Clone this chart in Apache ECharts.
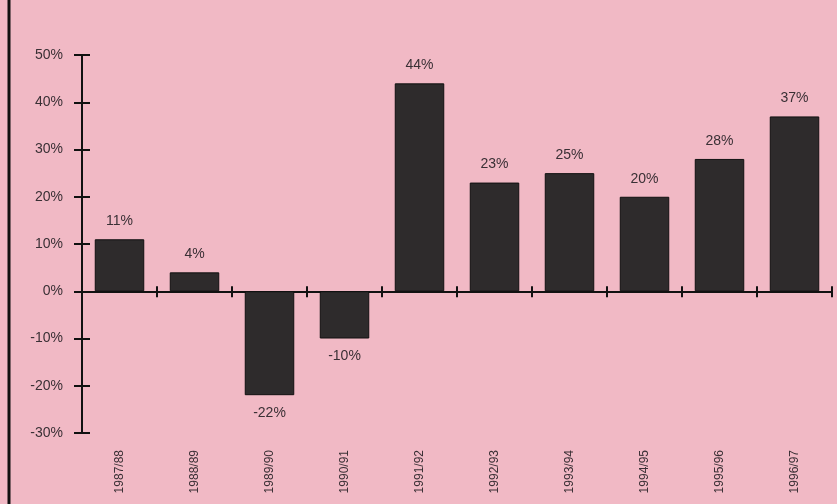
<!DOCTYPE html>
<html>
<head>
<meta charset="utf-8">
<script src="https://cdn.jsdelivr.net/npm/echarts@6/dist/echarts.min.js"></script>
<style>
html,body{margin:0;padding:0;background:#f1b9c5;}
#chart{width:837px;height:504px;}
</style>
</head>
<body>
<div id="chart"></div>
<script>
const categories = ['1987/88','1988/89','1989/90','1990/91','1991/92','1992/93','1993/94','1994/95','1995/96','1996/97'];
const values = [11, 4, -22, -10, 44, 23, 25, 20, 28, 37];
const yMin = -30, yMax = 50, yStep = 10;

const font = '"Liberation Sans", Arial, sans-serif';
const chart = echarts.init(document.getElementById('chart'));
const yBase = {type:'value', min:yMin, max:yMax, interval:yStep, splitLine:{show:false}};
const xBase = {type:'category', data:categories, boundaryGap:true};
chart.setOption({
  backgroundColor:'#f1b9c5',
  animation:false,
  grid:{left:82, right:5, top:55, bottom:71, containLabel:false},
  xAxis:[
    Object.assign({}, xBase, {position:'bottom', axisLine:{onZero:true, lineStyle:{color:'#111', width:2}},
      axisTick:{show:true, length:6, lineStyle:{color:'#111', width:2}}, axisLabel:{show:false}}),
    Object.assign({}, xBase, {position:'bottom', axisLine:{show:false, onZero:true},
      axisTick:{show:true, inside:true, length:5, lineStyle:{color:'#111', width:2}}, axisLabel:{show:false}}),
    Object.assign({}, xBase, {position:'bottom', axisLine:{show:false, onZero:false}, axisTick:{show:false},
      axisLabel:{show:true, rotate:90, margin:17, fontSize:12, color:'#3a3035', fontFamily:font}})
  ],
  yAxis:[
    Object.assign({}, yBase, {position:'left', axisLine:{show:true, lineStyle:{color:'#111', width:2}},
      axisTick:{show:true, length:8, lineStyle:{color:'#111', width:2}},
      axisLabel:{formatter:'{value}%', margin:19, fontSize:14, color:'#3a3035', fontFamily:font}}),
    Object.assign({}, yBase, {position:'left', axisLine:{show:false},
      axisTick:{show:true, inside:true, length:8, lineStyle:{color:'#111', width:2}}, axisLabel:{show:false}})
  ],
  graphic:[
    {type:'line', shape:{x1:9, y1:0, x2:9, y2:504}, style:{stroke:'#111', lineWidth:3}}
  ],
  series:[{
    type:'bar', xAxisIndex:0, yAxisIndex:0, barWidth:'66%',
    itemStyle:{color:'#2e2b2c', borderColor:'#111', borderWidth:1},
    label:{show:true, formatter:'{c}%', fontSize:14, color:'#3a3035', fontFamily:font, distance:11},
    data: values.map(v => ({value:v, label:{position: v < 0 ? 'bottom' : 'top'}}))
  }]
});
</script>
</body>
</html>
